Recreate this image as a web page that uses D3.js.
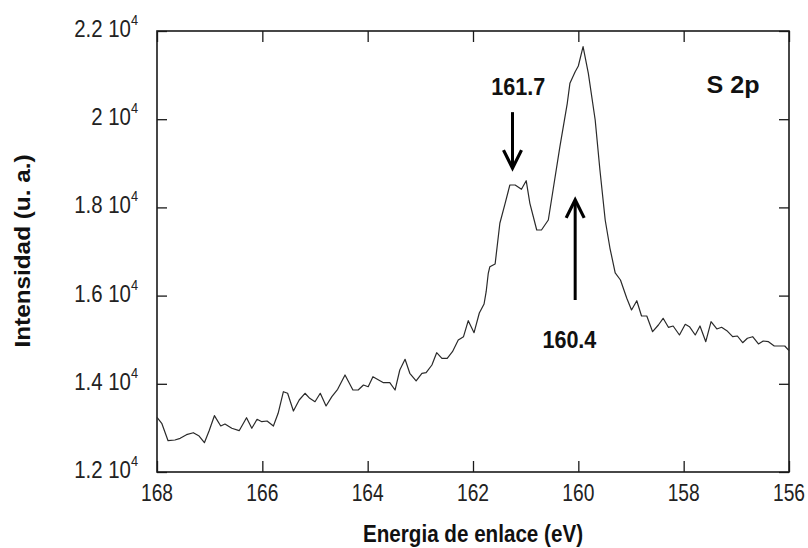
<!DOCTYPE html>
<html>
<head>
<meta charset="utf-8">
<script src="https://cdn.jsdelivr.net/npm/d3@7"></script>
<style>
  html, body { margin: 0; padding: 0; background: #fff; }
  svg { display: block; font-family: "Liberation Sans", Arial, sans-serif; }
</style>
</head>
<body>
<svg id="chart" width="808" height="548"></svg>
<script>
// Binding energy (eV) and intensity (a.u.)
const energy = [168.00,167.91,167.79,167.66,167.56,167.44,167.31,167.20,167.10,167.01,
  166.91,166.79,166.71,166.58,166.44,166.30,166.20,166.10,166.01,165.91,
  165.79,165.70,165.60,165.52,165.41,165.30,165.19,165.10,165.00,164.90,
  164.79,164.68,164.57,164.43,164.28,164.18,164.08,163.99,163.90,163.70,
  163.58,163.48,163.39,163.29,163.20,163.08,162.97,162.89,162.78,162.69,
  162.59,162.49,162.39,162.28,162.18,162.09,161.98,161.88,161.79,161.75,
  161.71,161.68,161.58,161.49,161.39,161.30,161.20,161.08,160.99,160.92,
  160.79,160.70,160.57,160.48,160.35,160.21,160.16,160.06,160.00,159.91,
  159.81,159.68,159.59,159.49,159.40,159.30,159.20,159.08,158.99,158.89,
  158.80,158.70,158.59,158.48,158.39,158.29,158.20,158.08,157.97,157.89,
  157.78,157.69,157.58,157.48,157.37,157.28,157.18,157.07,156.98,156.88,
  156.79,156.69,156.58,156.49,156.39,156.28,156.17,156.08,156.00];
const intensity = [13240,13104,12710,12726,12764,12846,12891,12816,12664,12937,
  13277,13043,13088,12991,12937,13231,12991,13195,13141,13156,
  13043,13331,13821,13785,13383,13633,13785,13671,13594,13785,
  13497,13708,13875,14200,13859,13859,13973,13934,14161,14025,
  14025,13859,14313,14556,14238,14064,14238,14252,14426,14705,
  14578,14578,14728,14993,15068,15431,15159,15606,15810,16088,
  16506,16655,16717,17640,18093,18508,18508,18411,18606,18093,
  17488,17488,17714,18395,19376,20361,20814,21077,21206,21644,
  21041,19982,18848,17714,17079,16513,16354,15939,15674,15884,
  15537,15537,15181,15333,15485,15281,15311,15107,15349,15295,
  15107,15311,14955,15408,15243,15281,15204,15068,15084,14932,
  15032,15068,14903,14971,14955,14857,14857,14857,14751];

const xTicks = [168, 166, 164, 162, 160, 158, 156];
const yTicks = [12000, 14000, 16000, 18000, 20000, 22000];

// Peak annotations
const peakLabels = ["161.7", "160.4"];
const peakLabelE = [161.14, 160.17];
const peakLabelI = [20549, 14812];
const arrowE = [161.25, 160.06];
const arrowFromI = [20160, 15900];
const arrowToI = [18890, 18170];

const xTitle = "Energia de enlace (eV)";
const yTitle = "Intensidad (u. a.)";
const panelLabel = "S 2p";

(function draw() {
const svg = d3.select("#chart");
const pL = 157, pR = 789, pT = 31, pB = 472;

const x = d3.scaleLinear().domain([168, 156]).range([pL, pR]);
const y = d3.scaleLinear().domain([12000, 22000]).range([pB, pT]);

const ink = "#1a1a1a";

// Axes: ticks inside on all four sides
const tickStyle = g => {
  g.select(".domain").remove();
  g.selectAll(".tick line").attr("stroke", ink).attr("stroke-width", 1.3);
  g.selectAll(".tick text").remove();
};
svg.append("g").attr("transform", `translate(0,${pB})`)
  .call(d3.axisBottom(x).tickValues(xTicks).tickSize(-11)).call(tickStyle);
svg.append("g").attr("transform", `translate(0,${pT})`)
  .call(d3.axisTop(x).tickValues(xTicks).tickSize(-11)).call(tickStyle);
svg.append("g").attr("transform", `translate(${pL},0)`)
  .call(d3.axisLeft(y).tickValues(yTicks).tickSize(-10)).call(tickStyle);
svg.append("g").attr("transform", `translate(${pR},0)`)
  .call(d3.axisRight(y).tickValues(yTicks).tickSize(-10)).call(tickStyle);

// Frame
svg.append("rect").attr("x", pL).attr("y", pT)
  .attr("width", pR - pL).attr("height", pB - pT)
  .attr("fill", "none").attr("stroke", ink).attr("stroke-width", 1.6);

// X tick labels
svg.append("g").selectAll("text").data(xTicks).join("text")
  .attr("transform", d => `translate(${x(d)},${pB + 29}) scale(0.8,1)`)
  .attr("text-anchor", "middle").attr("font-size", 24).attr("fill", "#222")
  .text(d => d);

// Y tick labels: "m 10^4"
const yl = svg.append("g").selectAll("text").data(yTicks).join("text")
  .attr("transform", d => `translate(138,${y(d) + 6}) scale(0.85,1)`)
  .attr("text-anchor", "end").attr("font-size", 24).attr("fill", "#222");
yl.append("tspan").text(d => String(d / 1e4) + " 10");
yl.append("tspan").attr("font-size", 15).attr("dy", -12).text("4");

// Data line
const line = d3.line().x((d, i) => x(energy[i])).y((d, i) => y(intensity[i]));
svg.append("path").datum(energy).attr("d", line)
  .attr("fill", "none").attr("stroke", "#2a2a2a").attr("stroke-width", 1.2)
  .attr("stroke-linejoin", "round");

// Arrows
const arrows = svg.append("g");
arrowE.forEach((e, i) => {
  const ax = x(e), y0 = y(arrowFromI[i]), y1 = y(arrowToI[i]);
  const dir = y1 > y0 ? 1 : -1;
  arrows.append("line").attr("x1", ax).attr("x2", ax).attr("y1", y0).attr("y2", y1 - dir * 1)
    .attr("stroke", "#000").attr("stroke-width", 3);
  arrows.append("path")
    .attr("d", `M${ax - 9},${y1 - dir * 18} L${ax},${y1} L${ax + 9},${y1 - dir * 18}`)
    .attr("fill", "none").attr("stroke", "#000").attr("stroke-width", 3.2)
    .attr("stroke-linejoin", "miter");
});

// Peak labels
svg.append("g").selectAll("text").data(peakLabels).join("text")
  .attr("x", (d, i) => x(peakLabelE[i])).attr("y", (d, i) => y(peakLabelI[i]))
  .attr("text-anchor", "middle").attr("font-size", 23).attr("font-weight", "bold")
  .attr("fill", "#111")
  .attr("textLength", 54).attr("lengthAdjust", "spacingAndGlyphs")
  .text(d => d);

// Panel label
svg.append("text").attr("x", 733).attr("y", 93)
  .attr("text-anchor", "middle").attr("font-size", 24).attr("font-weight", "bold")
  .attr("fill", "#111").attr("textLength", 53).attr("lengthAdjust", "spacingAndGlyphs")
  .text(panelLabel);

// Axis titles
svg.append("text").attr("x", (pL + pR) / 2).attr("y", 542)
  .attr("text-anchor", "middle").attr("font-size", 23).attr("font-weight", "bold")
  .attr("fill", "#111").attr("textLength", 220).attr("lengthAdjust", "spacingAndGlyphs")
  .text(xTitle);
svg.append("text").attr("transform", "translate(30,251) rotate(-90)")
  .attr("text-anchor", "middle").attr("font-size", 22).attr("font-weight", "bold")
  .attr("fill", "#111").attr("textLength", 193).attr("lengthAdjust", "spacingAndGlyphs")
  .text(yTitle);
})();
</script>
</body>
</html>
